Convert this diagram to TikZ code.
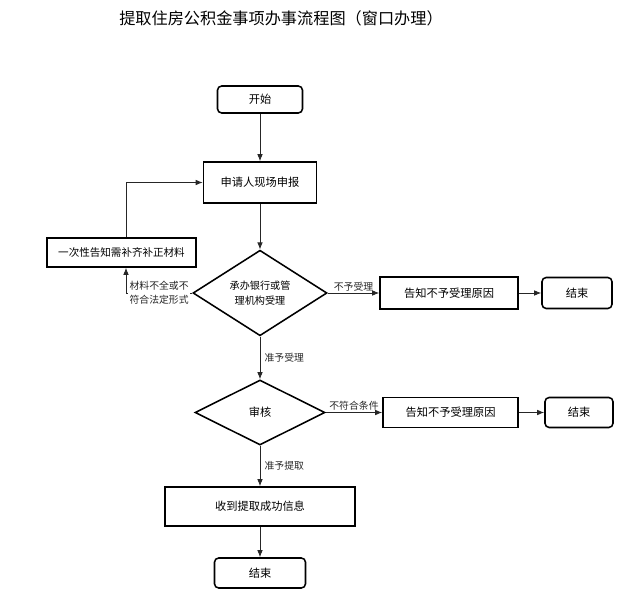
\documentclass[tikz,border=0pt]{standalone}
\usepackage{fontspec}
\setmainfont{Noto Sans CJK SC}
\usetikzlibrary{shapes.geometric,arrows.meta}

\begin{document}
\begin{tikzpicture}[x=0.025cm,y=-0.025cm,
  box/.style={draw,line width=1.1pt,inner sep=2pt,font=\fontsize{8}{10}\selectfont},
  term/.style={box,rounded corners=3pt},
  dmd/.style={draw,line width=1.1pt,diamond,inner sep=0pt,font=\fontsize{8}{11}\selectfont,align=center},
  arr/.style={-{Latex[length=5pt,width=4pt]},line width=0.6pt,black!85},
  lbl/.style={font=\fontsize{7}{10}\selectfont,inner sep=1pt}]
 \useasboundingbox (0,0) rectangle (633,590);
 \node[font=\fontsize{11.5}{14}\selectfont] (title) at (281,18) {提取住房公积金事项办事流程图（窗口办理）};

 \node[term,minimum width=2.125cm,minimum height=0.675cm] (start) at (260,99.5) {开始};
 \node[box,minimum width=2.825cm,minimum height=1.025cm] (apply) at (260,182.5) {申请人现场申报};
 \node[box,minimum width=3.725cm,minimum height=0.725cm,font=\fontsize{7.5}{10}\selectfont] (fix) at (121.5,252.5) {一次性告知需补齐补正材料};
 \node[dmd,minimum width=3.35cm,minimum height=1.85cm,font=\fontsize{7.2}{11}\selectfont] (accept) at (260,293) {承办银行或管\\理机构受理};
 \node[box,minimum width=3.45cm,minimum height=0.8cm] (reject1) at (449,293) {告知不予受理原因};
 \node[term,minimum width=1.75cm,minimum height=0.775cm] (end1) at (577,293) {结束};
 \node[dmd,minimum width=3.25cm,minimum height=1.625cm] (check) at (260,412.5) {审核};
 \node[box,minimum width=3.375cm,minimum height=0.75cm] (reject2) at (450.5,412.5) {告知不予受理原因};
 \node[term,minimum width=1.7cm,minimum height=0.75cm] (end2) at (579,412.5) {结束};
 \node[box,minimum width=4.75cm,minimum height=0.975cm] (done) at (260,506.5) {收到提取成功信息};
 \node[term,minimum width=2.275cm,minimum height=0.75cm] (end3) at (260,573) {结束};

 \draw[arr] (start) -- (apply);
 \draw[arr] (apply) -- (accept);
 \draw[arr] (accept.west) -- node[lbl,fill=white,align=center] {材料不全或不\\符合法定形式} (accept.west -| 126,0) -- (126,0 |- fix.south);
 \draw[arr] (fix.north -| 126,0) |- (apply.west);
 \draw[arr] (accept) -- node[lbl,above] {不予受理} (reject1);
 \draw[arr] (reject1) -- (end1);
 \draw[arr] (accept) -- node[lbl,right=2pt] {准予受理} (check);
 \draw[arr] (check) -- node[lbl,above] {不符合条件} (reject2);
 \draw[arr] (reject2) -- (end2);
 \draw[arr] (check) -- node[lbl,right=2pt] {准予提取} (done);
 \draw[arr] (done) -- (end3);
\end{tikzpicture}
\end{document}
